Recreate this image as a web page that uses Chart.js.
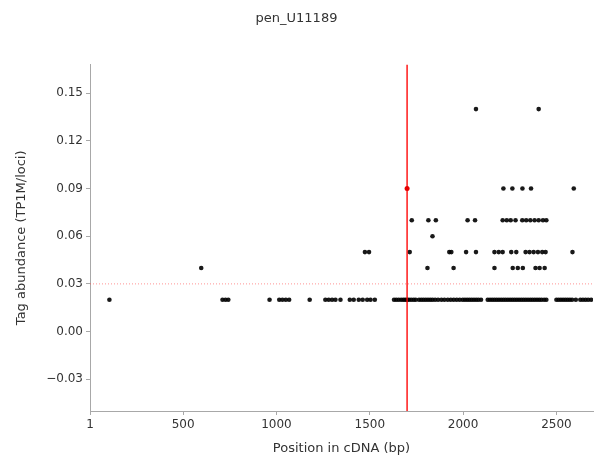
<!DOCTYPE html>
<html>
<head>
<meta charset="utf-8">
<script src="https://cdn.jsdelivr.net/npm/chart.js@4/dist/chart.umd.min.js"></script>
<style>
  html, body { margin: 0; padding: 0; background: #fff; }
  #wrap { width: 599px; height: 459px; }
</style>
</head>
<body>
<div id="wrap"><canvas id="c" width="599" height="459"></canvas></div>
<script>
// Tag positions (bp) grouped by abundance level (TP1M/loci)
const level002 = [105, 711, 727, 742, 963, 1015, 1032, 1050, 1068, 1178, 1262, 1280, 1298, 1316, 1343,
  1393, 1414, 1441, 1462, 1486, 1504, 1527,
  1630, 1642, 1655, 1668, 1680, 1690, 1700, 1710, 1722, 1735, 1746,
  1764, 1776, 1788, 1800, 1812, 1824, 1836, 1850, 1866, 1884, 1900, 1918, 1934, 1950, 1966, 1982,
  1998, 2010, 2022, 2034, 2046, 2058, 2070, 2082, 2096,
  2132, 2144, 2156, 2168, 2180, 2192, 2204, 2216, 2228, 2240, 2252, 2264, 2276, 2288, 2300, 2312,
  2324, 2336, 2348, 2360, 2372, 2384, 2396, 2408, 2420, 2434, 2446,
  2500, 2512, 2524, 2536, 2548, 2560, 2572, 2584, 2604, 2628, 2642, 2656, 2670, 2686];
const level004 = [597, 1809, 1949, 2168, 2266, 2293, 2320, 2388, 2410, 2437];
const level005 = [1474, 1496, 1714, 1926, 1937, 2016, 2069, 2168, 2191, 2212, 2258, 2285, 2335, 2356,
  2378, 2401, 2424, 2442, 2586];
const level006 = [1836];
const level007 = [1725, 1814, 1854, 2024, 2064, 2212, 2234, 2255, 2281, 2317, 2338, 2360, 2383, 2405,
  2428, 2446];
const level009 = [2216, 2264, 2318, 2364, 2593];
const level014 = [2069, 2405];

// Highlighted site and abundance threshold
const sitePosition = 1700;
const siteAbundance = 0.09;
const threshold = 0.03;

// Axis extents and tick labels
const xMin = 1, xMax = 2696;
const yMin = -0.05, yMax = 0.168;
const xTicks = [1, 500, 1000, 1500, 2000, 2500];
const yTicks = [-0.03, 0, 0.03, 0.06, 0.09, 0.12, 0.15];

const levels = [
  [0.02, level002], [0.04, level004], [0.05, level005], [0.06, level006],
  [0.07, level007], [0.09, level009], [0.14, level014]
];
const tagPoints = [];
levels.forEach(([y, xs]) => xs.forEach(x => tagPoints.push({ x: x, y: y })));

const FONT = 'DejaVu Sans';
const TEXT = '#333333';
const AXIS = '#a8a8a8';

new Chart(document.getElementById('c'), {
  type: 'scatter',
  data: {
    datasets: [
      {
        data: [{ x: sitePosition, y: siteAbundance }],
        backgroundColor: 'rgba(230,0,0,1)',
        pointRadius: 2.5,
        pointBorderWidth: 0
      },
      {
        data: [{ x: sitePosition, y: yMin }, { x: sitePosition, y: yMax }],
        showLine: true,
        borderColor: 'rgba(255,0,0,0.8)',
        borderWidth: 1.7,
        pointRadius: 0
      },
      {
        data: [{ x: xMin, y: threshold }, { x: xMax, y: threshold }],
        showLine: true,
        borderColor: 'rgba(255,60,60,0.55)',
        borderWidth: 1,
        borderDash: [1, 2],
        pointRadius: 0
      },
      {
        data: tagPoints,
        backgroundColor: 'rgba(0,0,0,0.9)',
        pointRadius: 2.3,
        pointBorderWidth: 0
      }
    ]
  },
  options: {
    responsive: false,
    animation: false,
    devicePixelRatio: 1,
    layout: { padding: { left: 0, right: 6, top: 0, bottom: 0 } },
    plugins: {
      legend: { display: false },
      tooltip: { enabled: false },
      title: {
        display: true,
        text: 'pen_U11189',
        color: TEXT,
        font: { family: FONT, size: 13, weight: 'normal' },
        padding: { top: 11, bottom: 38 }
      }
    },
    scales: {
      x: {
        type: 'linear',
        min: xMin,
        max: xMax,
        afterBuildTicks: s => { s.ticks = xTicks.map(v => ({ value: v })); },
        afterFit: s => { s.height = 48; },
        ticks: {
          color: TEXT,
          font: { family: FONT, size: 12 },
          padding: 3,
          maxRotation: 0,
          callback: v => String(v)
        },
        grid: { drawOnChartArea: false, drawTicks: true, tickLength: 4, color: AXIS },
        border: { display: true, color: AXIS, width: 1 },
        title: {
          display: true,
          text: 'Position in cDNA (bp)',
          color: TEXT,
          font: { family: FONT, size: 13 },
          padding: { top: 0, bottom: 3 }
        }
      },
      y: {
        type: 'linear',
        min: yMin,
        max: yMax,
        afterBuildTicks: s => { s.ticks = yTicks.map(v => ({ value: v })); },
        afterFit: s => { s.width = 90; },
        ticks: {
          color: TEXT,
          font: { family: FONT, size: 12 },
          padding: 3,
          callback: v => v.toFixed(2).replace('-', '\u2212')
        },
        grid: { drawOnChartArea: false, drawTicks: true, tickLength: 4, color: AXIS },
        border: { display: true, color: AXIS, width: 1 },
        title: {
          display: true,
          text: 'Tag abundance (TP1M/loci)',
          color: TEXT,
          font: { family: FONT, size: 13 },
          padding: { top: 14, bottom: 0 }
        }
      }
    }
  }
});
</script>
</body>
</html>
